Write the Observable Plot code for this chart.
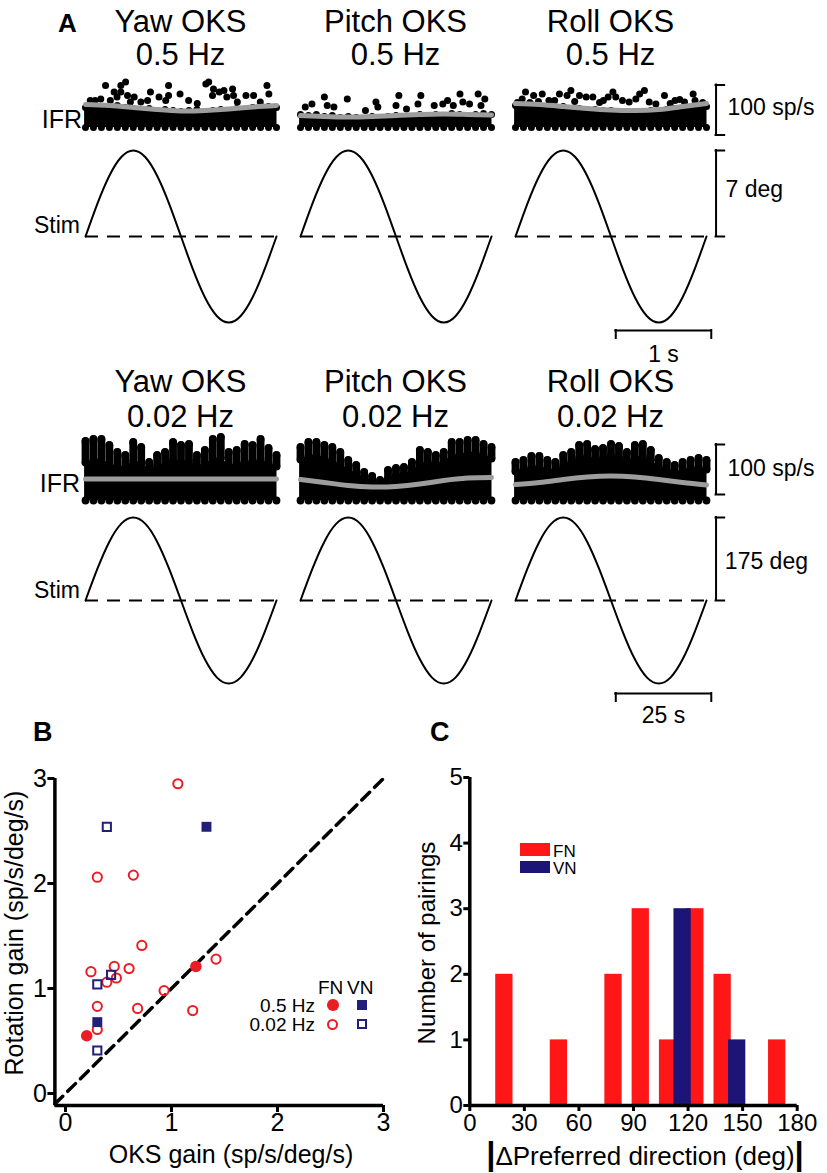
<!DOCTYPE html>
<html><head><meta charset="utf-8">
<script src="https://cdn.jsdelivr.net/npm/d3@7"></script>
<script src="https://cdn.jsdelivr.net/npm/@observablehq/plot@0.6"></script>
<style>
body{margin:0;background:#fff;}
#root{position:relative;width:827px;height:1173px;font-family:"Liberation Sans",Arial,Helvetica,sans-serif;color:#000;overflow:hidden;background:#fff;}
.abs{position:absolute;white-space:nowrap;line-height:1;}
</style></head><body><div id="root"></div>
<script>
// ================= DATA =================
// Panel A – titles
const axesNames = ["Yaw OKS", "Pitch OKS", "Roll OKS"];
const freqLabels = ["0.5 Hz", "0.02 Hz"];

// Stimulus position samples (one cycle), deg
const stimTopDeg = [0, 2.68, 4.95, 6.47, 7, 6.47, 4.95, 2.68, 0, -2.68, -4.95, -6.47, -7, -6.47, -4.95, -2.68, 0];
const stimBotDeg = [0, 67, 124, 162, 175, 162, 124, 67, 0, -67, -124, -162, -175, -162, -124, -67, 0];
const stimTopStep = 0.125;   // s
const stimBotStep = 3.125;   // s

// IFR sinusoidal fits (sp/s), 9 samples over one cycle
const fitYaw05 = [56, 54, 50, 46, 43, 44, 47, 51, 54];
const fitPitch05 = [34, 32, 31, 32, 34, 36, 37, 36, 35];
const fitRoll05 = [58, 56, 52, 48, 45, 44, 46, 52, 58];
const fitYaw002 = [51, 51, 51, 51, 51, 51, 51, 51, 51];
const fitPitch002 = [50, 44, 38, 35, 36, 41, 48, 53, 54];
const fitRoll002 = [40, 44, 50, 55, 57, 55, 50, 44, 39];

// IFR dense band upper edge (sp/s), 25 samples over one cycle
const envYaw05 = [50, 52, 48, 50, 54, 50, 48, 46, 48, 44, 46, 44, 42, 44, 46, 42, 44, 46, 44, 48, 46, 50, 48, 52, 50];
const envPitch05 = [36, 34, 36, 32, 34, 30, 32, 30, 28, 32, 30, 32, 34, 30, 32, 36, 34, 36, 34, 38, 36, 34, 36, 38, 36];
const envRoll05 = [54, 52, 56, 52, 50, 50, 52, 48, 48, 46, 46, 44, 44, 42, 42, 40, 42, 44, 44, 46, 48, 48, 50, 52, 52];
const envYaw002 = [84, 88, 90, 80, 76, 74, 86, 82, 70, 76, 78, 88, 84, 86, 76, 80, 90, 92, 78, 80, 86, 84, 90, 82, 76];
const envPitch002 = [90, 96, 98, 92, 88, 80, 70, 62, 54, 46, 42, 52, 58, 60, 66, 80, 84, 80, 86, 96, 100, 102, 104, 98, 92];
const envRoll002 = [66, 70, 74, 76, 70, 68, 78, 84, 92, 96, 90, 92, 98, 94, 86, 94, 96, 88, 76, 70, 64, 68, 72, 74, 70];
// IFR highest spikes at 0.02 Hz (sp/s), 25 samples
const peakYaw002 = [126, 130, 130, 118, 104, 98, 124, 114, 84, 98, 104, 124, 118, 120, 98, 108, 130, 134, 104, 108, 120, 118, 130, 112, 98];
const peakPitch002 = [114, 124, 124, 118, 114, 104, 88, 78, 64, 56, 48, 68, 72, 74, 84, 108, 104, 98, 104, 124, 124, 128, 128, 120, 114];
const peakRoll002 = [84, 88, 96, 96, 88, 84, 98, 104, 118, 120, 110, 112, 120, 116, 104, 118, 120, 108, 92, 84, 78, 84, 88, 92, 88];
const ifrBase05 = 11, ifrBase002 = 9;

// Sparse IFR spikes at 0.5 Hz: [time s, sp/s]
const spikesYaw05 = [[0.21,94],[0.37,94],[0.42,101],[0.30,81],[0.37,81],[0.44,74],[0.51,71],[0.16,67],[0.05,64],[0.10,64],[0.68,81],[0.77,71],[0.84,64],[0.87,94],[0.87,74],[0.99,77],[1.08,64],[1.17,58],[1.26,97],[1.29,101],[1.34,87],[1.33,74],[1.40,81],[1.45,84],[1.48,71],[1.54,87],[1.55,74],[1.59,61],[1.68,74],[1.76,74],[1.90,94],[1.92,77],[1.83,61],[0.65,64],[0.58,61],[0.26,64],[0.47,61],[0.33,71]];
const spikesPitch05 = [[0.25,71],[0.49,67],[0.79,61],[1.03,74],[1.26,74],[1.23,57],[1.40,54],[1.49,57],[1.54,64],[1.67,77],[1.70,61],[1.77,57],[1.86,77],[1.93,67],[1.89,54],[0.05,51],[0.12,57],[0.28,54],[0.35,51],[0.68,44],[0.81,51],[1.00,54],[1.11,47],[1.60,54]];
const spikesRoll05 = [[0.105,81],[0.19,74],[0.28,77],[0.46,77],[0.54,74],[0.58,84],[0.67,74],[0.74,71],[0.81,71],[0.97,71],[1.02,81],[1.05,71],[1.12,64],[1.19,61],[1.26,67],[1.30,77],[1.35,84],[1.40,61],[1.47,57],[1.56,74],[1.67,64],[1.86,77],[1.88,64],[1.77,61],[0.35,64],[0.07,67],[0.02,60],[0.15,60],[0.24,62],[0.41,64],[0.62,62],[0.88,60],[0.92,64],[1.62,58],[1.72,66],[1.96,60]];

// Panel B – gains (x: OKS gain, y: rotation gain)
const fn05X = [0.20, 1.23];
const fn05Y = [0.55, 1.21];
const fn002X = [1.06, 0.30, 0.64, 0.72, 0.24, 0.46, 0.60, 0.39, 0.48, 1.42, 0.93, 0.30, 0.68, 1.20, 0.30];
const fn002Y = [2.95, 2.06, 2.08, 1.41, 1.16, 1.21, 1.19, 1.06, 1.10, 1.28, 0.98, 0.83, 0.81, 0.79, 0.61];
const vn05X = [1.33, 0.30];
const vn05Y = [2.54, 0.68];
const vn002X = [0.39, 0.30, 0.43, 0.30];
const vn002Y = [2.54, 1.04, 1.13, 0.41];
const unityLine = [-0.1, 3];
const gainTicks = [0, 1, 2, 3];

// Panel C – histogram of |Δ preferred direction|
const fnBinCenters = [19, 49, 79, 94, 109, 124, 139, 169];
const fnCounts = [2, 1, 2, 3, 1, 3, 2, 1];
const vnBinCenters = [117, 147];
const vnCounts = [3, 1];
const dirTicks = [0, 30, 60, 90, 120, 150, 180];
const countTicks = [0, 1, 2, 3, 4, 5];

// ================= LAYOUT HELPERS =================
const FONT = '"Liberation Sans", Arial, Helvetica, sans-serif';
const root = document.getElementById("root");
const RED_B = "#ec1c24", NAVY = "#221f7a", RED_C = "#ff1616", BLUE_C = "#1d1477";

function addText(txt, x, baseline, size, opt = {}) {
  const d = document.createElement("div");
  d.className = "abs";
  d.textContent = txt;
  d.style.left = x + "px";
  d.style.top = (baseline - 0.8465 * size) + "px";
  d.style.fontSize = size + "px";
  if (opt.bold) d.style.fontWeight = "bold";
  if (opt.anchor === "middle") d.style.transform = "translateX(-50%)";
  if (opt.anchor === "end") d.style.transform = "translateX(-100%)";
  root.appendChild(d);
  return d;
}
function addRotated(txt, cx, cy, size) {
  const d = document.createElement("div");
  d.className = "abs";
  d.textContent = txt;
  d.style.left = cx + "px";
  d.style.top = cy + "px";
  d.style.fontSize = size + "px";
  d.style.transform = "translate(-50%,-50%) rotate(-90deg)";
  root.appendChild(d);
}
function place(svg, left, top) {
  svg.style.position = "absolute";
  svg.style.left = left + "px";
  svg.style.top = top + "px";
  root.appendChild(svg);
}
const baseStyle = {fontFamily: FONT, background: "transparent", overflow: "visible", color: "black"};

// ================= PANEL A =================
const colX = [85, 300, 515];
const colW = 191;
const ROLL_W = 312;

function bracketMarks(b) {
  return [
    Plot.ruleX([b.t], {y1: b.y1, y2: b.y2, strokeWidth: 2, strokeLinecap: "square"}),
    Plot.ruleY([b.y1, b.y2], {x1: b.t, x2: b.t + b.tick, strokeWidth: 2, strokeLinecap: "square"}),
    Plot.text([b.label], {x: b.textT, y: b.textY, text: d => d, textAnchor: "start", fontSize: 23})
  ];
}

function drawIFR(cfg) {
  const n = cfg.env.length;
  const step = cfg.period / (n - 1);
  const rows = cfg.env.map((e, i) => ({t: i * step, env: e, peak: cfg.peaks ? cfg.peaks[i] : e}));
  const fitStep = cfg.period / (cfg.fit.length - 1);
  const fitRows = cfg.fit.map((v, i) => ({t: i * fitStep, v}));
  const spikeRows = (cfg.spikes || []).map(([t, v]) => ({t, v}));
  const r = cfg.r;
  const marks = [
    Plot.areaY(rows, {x: "t", y1: cfg.base, y2: "env", fill: "black", stroke: "black", strokeWidth: 1}),
    Plot.dot(rows, {x: "t", y: cfg.base - 1, r, fill: "black"}),
    Plot.dot(rows, {x: "t", y: "env", r, fill: "black"})
  ];
  if (cfg.peaks) {
    marks.push(Plot.ruleX(rows, {x: "t", y1: "env", y2: "peak", strokeWidth: 2 * r, strokeLinecap: "round"}));
    marks.push(Plot.dot(rows, {x: "t", y: "peak", r, fill: "black"}));
  }
  marks.push(Plot.dot(spikeRows, {x: "t", y: "v", r, fill: "black"}));
  marks.push(Plot.line(fitRows, {x: "t", y: "v", stroke: "#9d9d9d", strokeWidth: 5, curve: "natural"}));
  if (cfg.bracket) marks.push(...bracketMarks(cfg.bracket));
  const svg = Plot.plot({
    width: cfg.width, height: cfg.height, margin: 0,
    x: {domain: [0, cfg.period * cfg.width / colW], axis: null},
    y: {domain: cfg.yDomain, axis: null},
    style: baseStyle,
    marks
  });
  place(svg, cfg.left, cfg.top);
}

function drawStim(cfg) {
  const rows = cfg.values.map((v, i) => ({t: i * cfg.step, v}));
  const period = cfg.step * (cfg.values.length - 1);
  const marks = [
    Plot.ruleY([0], {x1: 0, x2: period, strokeWidth: 2, strokeDasharray: "13,9"}),
    Plot.line(rows, {x: "t", y: "v", stroke: "black", strokeWidth: 2, curve: "natural"})
  ];
  if (cfg.bracket) marks.push(...bracketMarks(cfg.bracket));
  if (cfg.timeBar) {
    const tb = cfg.timeBar;
    marks.push(
      Plot.ruleY([tb.y], {x1: tb.t1, x2: tb.t2, strokeWidth: 2, strokeLinecap: "square"}),
      Plot.ruleX([tb.t1, tb.t2], {y1: tb.y, y2: tb.yTick, strokeWidth: 2, strokeLinecap: "square"}),
      Plot.text([tb.label], {x: (tb.t1 + tb.t2) / 2, y: tb.textY, text: d => d, fontSize: 23, textAnchor: "middle"})
    );
  }
  const svg = Plot.plot({
    width: cfg.width, height: cfg.height, margin: 0,
    x: {domain: [0, period * cfg.width / colW], axis: null},
    y: {domain: cfg.yDomain, axis: null},
    style: baseStyle,
    marks
  });
  place(svg, cfg.left, cfg.top);
}

// Row 1 (0.5 Hz)
const top05 = {
  env: [envYaw05, envPitch05, envRoll05],
  fit: [fitYaw05, fitPitch05, fitRoll05],
  spikes: [spikesYaw05, spikesPitch05, spikesRoll05]
};
for (let k = 0; k < 3; k++) {
  const isRoll = k === 2;
  drawIFR({
    left: colX[k], top: 75, width: isRoll ? ROLL_W : colW, height: 62,
    period: 2, yDomain: [-10, 114], base: ifrBase05, r: 3.5,
    env: top05.env[k], fit: top05.fit[k], spikes: top05.spikes[k],
    bracket: isRoll ? {t: 2.1, y1: -5, y2: 95, tick: 0.09, label: "100 sp/s", textT: 2.22, textY: 50} : null
  });
  drawStim({
    left: colX[k], top: 140, width: isRoll ? ROLL_W : colW, height: 225,
    values: stimTopDeg, step: stimTopStep, yDomain: [-10.5, 7.814],
    bracket: isRoll ? {t: 2.1, y1: 0, y2: 7, tick: 0.09, label: "7 deg", textT: 2.2, textY: 3.8} : null,
    timeBar: isRoll ? {t1: 1.05, t2: 2.05, y: -7.65, yTick: -8.3, label: "1 s", textY: -9.6} : null
  });
}

// Row 2 (0.02 Hz)
const bot002 = {
  env: [envYaw002, envPitch002, envRoll002],
  peaks: [peakYaw002, peakPitch002, peakRoll002],
  fit: [fitYaw002, fitPitch002, fitRoll002]
};
for (let k = 0; k < 3; k++) {
  const isRoll = k === 2;
  drawIFR({
    left: colX[k], top: 432, width: isRoll ? ROLL_W : colW, height: 74,
    period: 50, yDomain: [-4, 144], base: ifrBase002, r: 3.9,
    env: bot002.env[k], peaks: bot002.peaks[k], fit: bot002.fit[k],
    bracket: isRoll ? {t: 52.5, y1: 20, y2: 120, tick: 2.25, label: "100 sp/s", textT: 55.5, textY: 72} : null
  });
  drawStim({
    left: colX[k], top: 505, width: isRoll ? ROLL_W : colW, height: 225,
    values: stimBotDeg, step: stimBotStep, yDomain: [-274.1, 200.3],
    bracket: isRoll ? {t: 52.5, y1: 0, y2: 175, tick: 2.25, label: "175 deg", textT: 54.8, textY: 82} : null,
    timeBar: isRoll ? {t1: 26.25, t2: 51.25, y: -196, yTick: -213, label: "25 s", textY: -243} : null
  });
}

// Panel A texts
addText("A", 58, 32, 26, {bold: true});
const titleCenters = [180.5, 395.5, 610.5];
for (let k = 0; k < 3; k++) {
  addText(axesNames[k], titleCenters[k], 32, 31, {anchor: "middle"});
  addText(freqLabels[0], titleCenters[k], 65, 31, {anchor: "middle"});
  addText(axesNames[k], titleCenters[k], 392, 31, {anchor: "middle"});
  addText(freqLabels[1], titleCenters[k], 427, 31, {anchor: "middle"});
}
addText("IFR", 82, 128, 25, {anchor: "end"});
addText("Stim", 80, 233, 23, {anchor: "end"});
addText("IFR", 80, 492, 25, {anchor: "end"});
addText("Stim", 80, 598, 23, {anchor: "end"});

// ================= PANEL B =================
const toRows = (xs, ys) => xs.map((x, i) => ({x, y: ys[i]}));
const svgB = Plot.plot({
  width: 400, height: 413,
  marginLeft: 54.4, marginRight: 17, marginTop: 18, marginBottom: 68,
  x: {domain: [-0.1, 3]},
  y: {domain: [-0.114, 3]},
  style: {...baseStyle, fontSize: "25px"},
  marks: [
    Plot.line(unityLine.map(v => ({x: v, y: v})), {x: "x", y: "y", strokeWidth: 3.5, strokeDasharray: "11,7"}),
    Plot.dot(toRows(fn002X, fn002Y), {x: "x", y: "y", r: 4.6, stroke: RED_B, strokeWidth: 2, fill: "none"}),
    Plot.dot(toRows(vn002X, vn002Y), {x: "x", y: "y", r: 4.6, symbol: "square", stroke: NAVY, strokeWidth: 2, fill: "none"}),
    Plot.dot(toRows(fn05X, fn05Y), {x: "x", y: "y", r: 5.8, fill: RED_B}),
    Plot.dot(toRows(vn05X, vn05Y), {x: "x", y: "y", r: 5.6, symbol: "square", fill: NAVY}),
    Plot.ruleY([-0.114], {strokeWidth: 3.5}),
    Plot.ruleX([-0.1], {strokeWidth: 3.5}),
    Plot.axisX(gainTicks, {tickSize: 7, tickPadding: 1, strokeWidth: 3, fontSize: 25, label: null, tickFormat: d => String(d)}),
    Plot.axisY(gainTicks, {tickSize: 7, tickPadding: 1, strokeWidth: 3, fontSize: 25, label: null, tickFormat: d => String(d)})
  ]
});
place(svgB, 0, 760);
addText("B", 33, 742, 27, {bold: true});
addRotated("Rotation gain (sp/s/deg/s)", 14.3, 933, 25);
addText("OKS gain (sp/s/deg/s)", 231, 1163, 25, {anchor: "middle"});
// legend B
addText("FN", 318, 994, 19);
addText("VN", 347, 994, 19);
addText("0.5 Hz", 315, 1012, 19, {anchor: "end"});
addText("0.02 Hz", 315, 1031, 19, {anchor: "end"});
function sym(cx, cy, size, style) {
  const d = document.createElement("div");
  d.style.position = "absolute";
  d.style.boxSizing = "border-box";
  d.style.left = (cx - size / 2) + "px";
  d.style.top = (cy - size / 2) + "px";
  d.style.width = size + "px";
  d.style.height = size + "px";
  Object.assign(d.style, style);
  root.appendChild(d);
}
sym(333, 1005, 11.6, {borderRadius: "50%", background: RED_B});
sym(362, 1005, 10, {background: NAVY});
sym(332, 1024, 11, {borderRadius: "50%", border: "2px solid " + RED_B});
sym(362, 1024, 9.5, {border: "2px solid " + NAVY});

// ================= PANEL C =================
const BIN_W = 9.5;
const fnRows = fnBinCenters.map((c, i) => ({c, n: fnCounts[i]}));
const vnRows = vnBinCenters.map((c, i) => ({c, n: vnCounts[i]}));
const svgC = Plot.plot({
  width: 417, height: 413,
  marginLeft: 59.3, marginRight: 30.3, marginTop: 17, marginBottom: 68,
  x: {domain: [0, 180]},
  y: {domain: [0, 5]},
  style: {...baseStyle, fontSize: "24px"},
  marks: [
    Plot.rectY(fnRows, {x1: d => d.c - BIN_W / 2, x2: d => d.c + BIN_W / 2, y: "n", fill: RED_C}),
    Plot.rectY(vnRows, {x1: d => d.c - BIN_W / 2, x2: d => d.c + BIN_W / 2, y: "n", fill: BLUE_C}),
    Plot.ruleY([0], {strokeWidth: 3.5}),
    Plot.ruleX([0], {strokeWidth: 3.5}),
    Plot.axisX(dirTicks, {tickSize: 6, tickPadding: 2, strokeWidth: 3, fontSize: 24, label: null, tickFormat: d => String(d)}),
    Plot.axisY(countTicks, {tickSize: 6, tickPadding: 1, strokeWidth: 3, fontSize: 24, label: null, tickFormat: d => String(d)})
  ]
});
place(svgC, 410, 760);
addText("C", 430, 742, 27, {bold: true});
addRotated("Number of pairings", 426.7, 943, 24);
// x label with tall bars
(function () {
  const d = document.createElement("div");
  d.className = "abs";
  d.style.left = "645px";
  d.style.top = (1165 - 0.8465 * 26) + "px";
  d.style.fontSize = "26px";
  d.style.transform = "translateX(-50%)";
  const bar = () => { const s = document.createElement("span"); s.textContent = "|"; s.style.fontSize = "33px"; s.style.lineHeight = "0"; s.style.fontWeight = "bold"; s.style.verticalAlign = "baseline"; return s; };
  d.appendChild(bar());
  d.appendChild(document.createTextNode("\u0394Preferred direction (deg)"));
  d.appendChild(bar());
  root.appendChild(d);
})();
// legend C
(function () {
  const mk = (top, h, color) => { const d = document.createElement("div"); d.style.position = "absolute"; d.style.left = "520px"; d.style.top = top + "px"; d.style.width = "30px"; d.style.height = h + "px"; d.style.background = color; root.appendChild(d); };
  mk(843, 13, RED_C);
  mk(861, 12, BLUE_C);
})();
addText("FN", 553, 857, 17);
addText("VN", 553, 874, 17);
</script></body></html>
